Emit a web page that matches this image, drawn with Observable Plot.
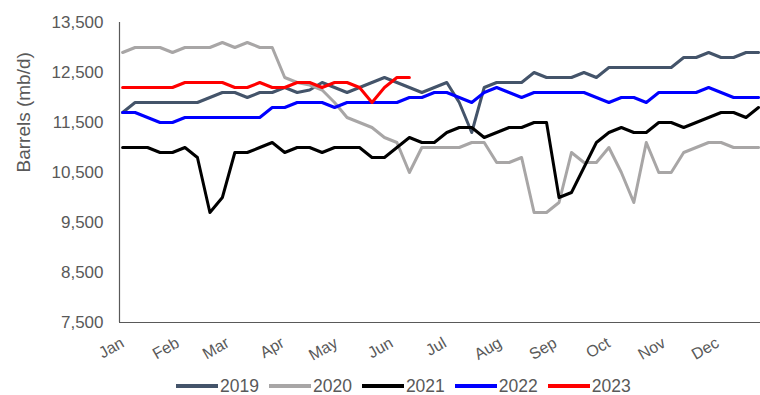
<!DOCTYPE html>
<html>
<head>
<meta charset="utf-8">
<script src="https://cdn.jsdelivr.net/npm/d3@7"></script>
<script src="https://cdn.jsdelivr.net/npm/@observablehq/plot@0.6"></script>
<style>
  body { margin: 0; background: #fff; font-family: "Liberation Sans", Arial, sans-serif; }
  #legend { display: flex; align-items: center; height: 20px; padding-left: 176px; margin-top: 4px; }
  .item { display: flex; align-items: center; margin-right: 10px; }
  .swatch { width: 42px; height: 4px; }
  .label { font-size: 17.5px; color: #595959; margin-left: 2px; line-height: 18px; }
</style>
</head>
<body>
<div id="chart"></div>
<div id="legend"></div>
<script>
// Weekly refinery throughput by year, thousand barrels per day
const years = ["2019", "2020", "2021", "2022", "2023"];
const colors = ["#44546a", "#a8a6a6", "#000000", "#0000ff", "#ff0000"];
const months = ["Jan", "Feb", "Mar", "Apr", "May", "Jun", "Jul", "Aug", "Sep", "Oct", "Nov", "Dec"];
const monthStartDay = [0, 31, 59, 90, 120, 151, 181, 212, 243, 273, 304, 334];
const yTicks = [7500, 8500, 9500, 10500, 11500, 12500, 13500];
const yTitle = "Barrels (mb/d)";

const v2019 = [11700, 11900, 11900, 11900, 11900, 11900, 11900, 12000, 12100, 12100, 12000, 12100, 12100,
  12200, 12100, 12150, 12300, 12200, 12100, 12200, 12300, 12400, 12300, 12200, 12100, 12200, 12300,
  11900, 11300, 12200, 12300, 12300, 12300, 12500, 12400, 12400, 12400, 12500, 12400, 12600, 12600,
  12600, 12600, 12600, 12600, 12800, 12800, 12900, 12800, 12800, 12900, 12900];
const v2020 = [12900, 13000, 13000, 13000, 12900, 13000, 13000, 13000, 13100, 13000, 13100, 13000, 13000,
  12400, 12300, 12250, 12150, 11900, 11600, 11500, 11400, 11200, 11100, 10500, 11000, 11000, 11000,
  11000, 11100, 11100, 10700, 10700, 10800, 9700, 9700, 9900, 10900, 10700, 10700, 11000, 10500,
  9900, 11100, 10500, 10500, 10900, 11000, 11100, 11100, 11000, 11000, 11000];
const v2021 = [11000, 11000, 11000, 10900, 10900, 11000, 10800, 9700, 10000, 10900, 10900, 11000, 11100,
  10900, 11000, 11000, 10900, 11000, 11000, 11000, 10800, 10800, 11000, 11200, 11100, 11100, 11300,
  11400, 11400, 11200, 11300, 11400, 11400, 11500, 11500, 10000, 10100, 10600, 11100, 11300, 11400,
  11300, 11300, 11500, 11500, 11400, 11500, 11600, 11700, 11700, 11600, 11800];
const v2022 = [11700, 11700, 11600, 11500, 11500, 11600, 11600, 11600, 11600, 11600, 11600, 11600, 11800,
  11800, 11900, 11900, 11900, 11800, 11900, 11900, 11900, 11900, 11900, 12000, 12000, 12100, 12100,
  12000, 11900, 12100, 12200, 12100, 12000, 12100, 12100, 12100, 12100, 12100, 12000, 11900, 12000,
  12000, 11900, 12100, 12100, 12100, 12100, 12200, 12100, 12000, 12000, 12000];
const v2023 = [12200, 12200, 12200, 12200, 12200, 12300, 12300, 12300, 12300, 12200, 12200, 12300, 12200,
  12200, 12300, 12300, 12200, 12300, 12300, 12200, 11900, 12200, 12400, 12400];

const series = [v2019, v2020, v2021, v2022, v2023];
const rows = series.flatMap((vals, k) => vals.map((value, week) => ({week, year: years[k], value})));

// month ticks placed at the week in which each month begins
const monthTicks = monthStartDay.map(d => d / 7);
const monthName = new Map(monthTicks.map((t, i) => [t, months[i]]));

const chart = Plot.plot({
  width: 760,
  height: 372,
  marginTop: 22,
  marginBottom: 50,
  marginLeft: 119,
  marginRight: 0,
  style: {fontFamily: "'Liberation Sans', Arial, sans-serif", color: "#595959", background: "#fff"},
  x: {domain: [-0.25, 51.16]},
  y: {domain: [7500, 13500]},
  color: {domain: years, range: colors},
  marks: [
    Plot.axisY({ticks: yTicks, tickSize: 0, tickPadding: 16, tickFormat: d3.format(","), fontSize: 17, label: null}),
    Plot.axisX({ticks: monthTicks, tickFormat: d => monthName.get(d), tickRotate: -30, tickSize: 0, tickPadding: 19, fontSize: 16, label: null}),
    Plot.text([yTitle], {text: d => d, frameAnchor: "left", dx: -96, rotate: -90, fontSize: 19, fill: "#595959"}),
    Plot.ruleX([-0.25], {stroke: "#595959", strokeWidth: 1.2}),
    Plot.ruleY([7500], {stroke: "#595959", strokeWidth: 1.2}),
    Plot.line(rows, {x: "week", y: "value", z: "year", stroke: "year", strokeWidth: 3, strokeLinejoin: "round"})
  ]
});
document.getElementById("chart").append(chart);

const legend = document.getElementById("legend");
years.forEach((y, k) => {
  const item = document.createElement("div");
  item.className = "item";
  const sw = document.createElement("span");
  sw.className = "swatch";
  sw.style.background = colors[k];
  const lb = document.createElement("span");
  lb.className = "label";
  lb.textContent = y;
  item.append(sw, lb);
  legend.append(item);
});
</script>
</body>
</html>
